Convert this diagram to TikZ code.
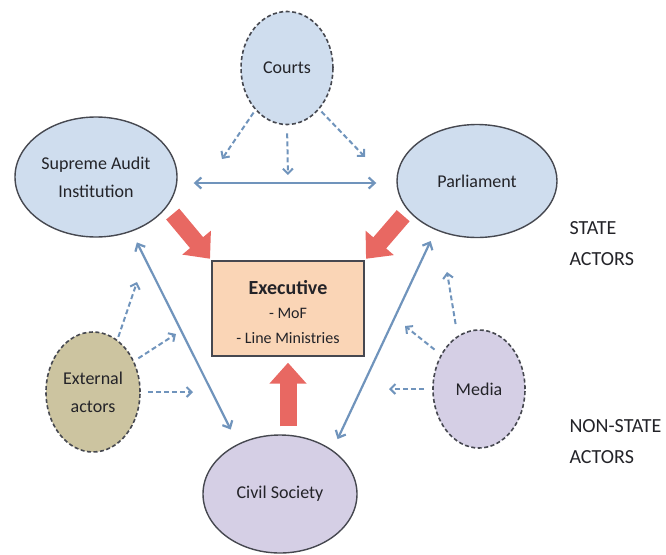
\documentclass[tikz,border=0pt]{standalone}
\usepackage{fontspec}
\setmainfont{Carlito}
\usetikzlibrary{shapes.geometric,arrows.meta}
\definecolor{bluefill}{RGB}{207,221,238}
\definecolor{purplefill}{RGB}{213,207,229}
\definecolor{tanfill}{RGB}{204,196,160}
\definecolor{execfill}{RGB}{250,213,182}
\definecolor{edgegray}{RGB}{70,72,80}
\definecolor{arrblue}{RGB}{112,148,188}
\definecolor{redc}{RGB}{232,104,98}
\definecolor{txt}{RGB}{35,35,40}
\begin{document}
\begin{tikzpicture}[x=1pt,y=-1pt,
  ellbox/.style={ellipse, draw=edgegray, line width=1.4pt, inner sep=0pt, align=center, text=txt,
     font=\fontsize{18}{28}\selectfont},
  dashell/.style={ellbox, dash pattern=on 4pt off 2.5pt, line width=1.6pt},
  bluearr/.style={draw=arrblue, line width=2.2pt, {Straight Barb[length=6pt,width=11pt]}-{Straight Barb[length=6pt,width=11pt]}},
  dasharr/.style={draw=arrblue, line width=2pt, dash pattern=on 5pt off 3pt, -{Straight Barb[length=5pt,width=10pt]}},
  redarr/.style={draw=redc, line width=17pt, -{Triangle[width=36pt,length=21pt]}},
  sidelabel/.style={anchor=west, align=left, text=txt, font=\fontsize{20}{31}\selectfont}
]
\useasboundingbox (0,0) rectangle (666,554);

% nodes
\node[dashell, fill=bluefill, minimum width=92pt, minimum height=113pt] (courts) at (287,68) {Courts};
\node[ellbox, fill=bluefill, minimum width=162pt, minimum height=120pt] (sai) at (96,177) {Supreme Audit\\Institution};
\node[ellbox, fill=bluefill, minimum width=160pt, minimum height=113pt] (par) at (477,181) {Parliament};
\node[draw=edgegray, line width=1.4pt, fill=execfill, minimum width=152pt, minimum height=95pt] (exec) at (288,308.5) {};
\node[align=center, text=txt, inner sep=0pt, font=\fontsize{16}{24.5}\selectfont] (exectext) at (288,312)
  {{\fontsize{20}{24.5}\selectfont\bfseries Executive}\\- MoF\\- Line Ministries};
\node[dashell, fill=tanfill, minimum width=94pt, minimum height=120pt] (ext) at (93,392) {External\\actors};
\node[dashell, fill=purplefill, minimum width=92pt, minimum height=118pt] (media) at (479,389) {Media};
\node[ellbox, fill=purplefill, minimum width=154pt, minimum height=118pt] (civ) at (280,494) {Civil Society};

\node[sidelabel] (state) at (566,244) {STATE\\ACTORS};
\node[sidelabel] (nonstate) at (566,442) {NON-STATE\\ACTORS};

% free ends of dashed arrows
\coordinate (c1) at (222,159);
\coordinate (c2) at (288,175);
\coordinate (c3) at (365,157);
\coordinate (e1) at (137,282);
\coordinate (e2) at (176,334);
\coordinate (e3) at (193,392);
\coordinate (m1) at (447,272);
\coordinate (m2) at (405,326);
\coordinate (m3) at (389,389);

% solid double arrows
\draw[bluearr, shorten <=16pt, shorten >=20pt] ([yshift=-6pt]sai.east) -- ([yshift=-2pt]par.west);
\draw[bluearr, shorten <=12pt, shorten >=16pt] (sai.-57) -- (civ.130);
\draw[bluearr, shorten <=12pt, shorten >=12pt] (par.230) -- (civ.40);

% dashed arrows
\draw[dasharr, shorten <=3pt] (courts.-127) -- (c1);
\draw[dasharr, shorten <=8pt] (courts.south) -- (c2);
\draw[dasharr, shorten <=3pt] (courts.-52) -- (c3);
\draw[dasharr, shorten <=3pt] (ext.65) -- (e1);
\draw[dasharr, shorten <=5pt] (ext.37) -- (e2);
\draw[dasharr, shorten <=7pt] (ext.east) -- (e3);
\draw[dasharr, shorten <=12pt] (media.112) -- (m1);
\draw[dasharr, shorten <=8pt] (media.138) -- (m2);
\draw[dasharr, shorten <=8pt] (media.west) -- (m3);

% red block arrows
\draw[redarr, shorten <=9pt, shorten >=2pt] (sai.-23) -- (exec.north west);
\draw[redarr, shorten <=7pt, shorten >=2pt] (par.203) -- (exec.north east);
\draw[redarr, shorten <=8pt, shorten >=6pt] (civ.north -| exec.south) -- (exec.south);
\end{tikzpicture}
\end{document}
